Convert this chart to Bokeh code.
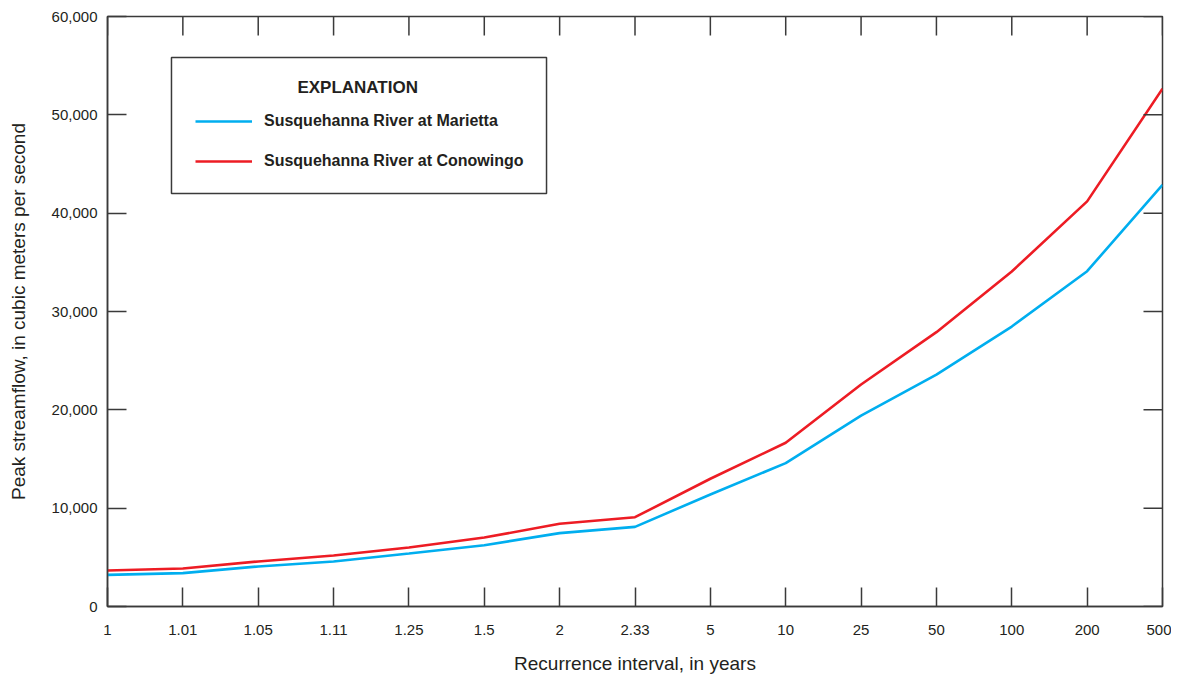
from bokeh.plotting import figure
from bokeh.models import (FixedTicker, NumeralTickFormatter, Range1d,
                          Legend, LegendItem, BoxAnnotation, Label)
from bokeh.embed import file_html
from bokeh.resources import INLINE

# ---- data ----
categories = ["1", "1.01", "1.05", "1.11", "1.25", "1.5", "2", "2.33", "5",
              "10", "25", "50", "100", "200", "500"]
marietta = [3220, 3390, 4070, 4580, 5390, 6230, 7460, 8100, 11390,
            14580, 19420, 23590, 28470, 34100, 42880]
conowingo = [3660, 3860, 4580, 5190, 6000, 7010, 8410, 9080, 12990,
             16650, 22580, 27900, 34070, 41200, 52650]
y_ticks = [0, 10000, 20000, 30000, 40000, 50000, 60000]
series_names = ["Susquehanna River at Marietta", "Susquehanna River at Conowingo"]

FONT = "Liberation Sans"
TXT = "#231f20"
AX = "#3a3a3a"
BLUE = "#00aeef"
RED = "#ed1c24"

xs = list(range(len(categories)))
X_MAX = len(categories) - 1
Y_MAX = y_ticks[-1]

W, H = 1171, 677
ML, MR, MT, MB = 107, 9, 16, 71
frame_w = W - ML - MR
frame_h = H - MT - MB
TICK = 19  # px

p = figure(width=W, height=H, output_backend="svg", toolbar_location=None,
           x_range=Range1d(0, X_MAX), y_range=Range1d(0, Y_MAX),
           min_border_left=ML, min_border_right=MR, min_border_top=MT,
           min_border_bottom=MB)
p.grid.visible = False
p.outline_line_color = AX
p.outline_line_width = 1.5
p.outline_line_alpha = 1.0
p.background_fill_color = "white"

r1 = p.line(xs, marietta, line_color=BLUE, line_width=2.6)
r2 = p.line(xs, conowingo, line_color=RED, line_width=2.6)

def style(ax):
    ax.axis_line_color = AX
    ax.axis_line_width = 1.5
    ax.major_tick_line_color = AX
    ax.major_tick_line_width = 1.5
    ax.major_tick_in = TICK
    ax.major_tick_out = 0
    ax.minor_tick_line_color = None
    ax.major_label_text_font = FONT
    ax.major_label_text_font_size = "15px"
    ax.major_label_text_color = TXT
    ax.axis_label_text_font = FONT
    ax.axis_label_text_font_size = "19px"
    ax.axis_label_text_font_style = "normal"
    ax.axis_label_text_color = TXT

xa = p.xaxis[0]
xa.ticker = FixedTicker(ticks=xs)
xa.major_label_overrides = {i: c for i, c in enumerate(categories)}
xa.axis_label = "Recurrence interval, in years"
style(xa)
xa.major_label_standoff = 18
xa.axis_label_standoff = 15

ya = p.yaxis[0]
ya.ticker = FixedTicker(ticks=y_ticks)
ya.formatter = NumeralTickFormatter(format="0,0")
ya.axis_label = "Peak streamflow, in cubic meters per second"
style(ya)
ya.major_label_standoff = 10
ya.axis_label_standoff = 20

# inward ticks on the top and right frame edges (same tick positions)
tick_dy = TICK * Y_MAX / frame_h
tick_dx = TICK * X_MAX / frame_w
p.segment(x0=xs, x1=xs, y0=[Y_MAX] * len(xs), y1=[Y_MAX - tick_dy] * len(xs),
          line_color=AX, line_width=1.5)
p.segment(x0=[X_MAX] * len(y_ticks), x1=[X_MAX - tick_dx] * len(y_ticks),
          y0=y_ticks, y1=y_ticks, line_color=AX, line_width=1.5)

# ---- legend ("EXPLANATION") ----
box = BoxAnnotation(left=0.849, right=5.826, top=55830, bottom=42000,
                    fill_color="white", fill_alpha=1.0,
                    line_color=AX, line_alpha=1.0, line_width=1.5)
p.add_layout(box)
p.add_layout(Label(x=3.32, y=52820, text="EXPLANATION", text_font=FONT,
                   text_font_size="17px", text_font_style="bold",
                   text_color=TXT, text_align="center", text_baseline="middle"))

legend = Legend(items=[LegendItem(label=series_names[0], renderers=[r1]),
                       LegendItem(label=series_names[1], renderers=[r2])],
                location=(88, 435), orientation="vertical",
                padding=10, spacing=20, glyph_width=57, glyph_height=20,
                label_height=20, label_standoff=12,
                label_text_font=FONT, label_text_font_size="16px",
                label_text_font_style="bold", label_text_color=TXT,
                border_line_color=None, background_fill_alpha=0)
p.add_layout(legend)

open("out.html", "w").write(file_html(p, INLINE))
